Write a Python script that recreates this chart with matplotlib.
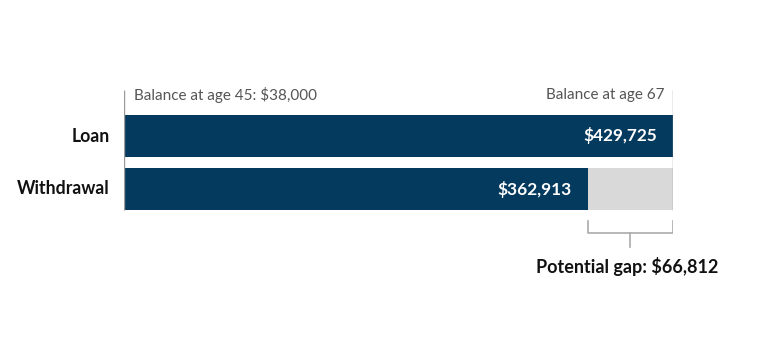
import matplotlib
matplotlib.use("Agg")
import matplotlib.pyplot as plt

categories = ["Loan", "Withdrawal"]
balances = [429725, 362913]
start_label = "Balance at age 45: $38,000"
end_label = "Balance at age 67"
gap_value = balances[0] - balances[1]

NAVY = "#053A5F"
GRAY = "#D9D9D9"
LINE = "#9A9A9A"

plt.rcParams['font.family'] = ['Lato', 'DejaVu Sans']

W, H = 780, 360
fig = plt.figure(figsize=(W / 100, H / 100), dpi=100)
ax = fig.add_axes([124 / W, 0, 549 / W, 1])
xmax = max(balances)
ax.set_xlim(0, xmax)
# pixel mapping: category 0 centre at 136 px, spacing 53 px
ax.set_ylim((H - 136) / 53, -136 / 53)
ax.axis("off")

ypos = list(range(len(categories)))
bh = 42 / 53
# gray remainder
ax.barh(ypos, [xmax] * len(ypos), height=bh, color=GRAY, zorder=1)
ax.barh(ypos, balances, height=bh, color=NAVY, zorder=2)

px = xmax / 549  # data units per pixel
for y, cat, v in zip(ypos, categories, balances):
    ax.text(-14 * px, y, cat, ha="right", va="center", fontsize=12.7,
            fontweight="bold", color="#111111")
    ax.text(v - 16 * px, y, f"${v:,.0f}", ha="right", va="center", fontsize=12.4,
            fontweight="bold", color="white", zorder=3)

py = 1 / 53  # data units per pixel vertical
top = -136 / 53 + 90 * py
bottom = ypos[-1] + bh / 2
for x in (0, xmax):
    ax.plot([x, x], [top, bottom], color=LINE, lw=1, zorder=4, solid_capstyle="butt")

ax.text(10 * px, -136 / 53 + 95 * py, start_label, ha="left", va="center",
        fontsize=10.95, color="#555555")
ax.text(xmax - 9 * px, -136 / 53 + 95 * py, end_label, ha="right", va="center",
        fontsize=10.95, color="#555555")

# bracket for gap
b_top = -136 / 53 + 221 * py
b_mid = -136 / 53 + 233 * py
b_low = -136 / 53 + 247 * py
x0, x1 = balances[1], xmax
ax.plot([x0, x0, x1, x1], [b_top, b_mid, b_mid, b_top], color="#AAAAAA", lw=1.2)
xc = (x0 + x1) / 2
ax.plot([xc, xc], [b_mid, b_low], color="#AAAAAA", lw=1.2)
ax.text(xc - 3 * px, -136 / 53 + 267 * py, f"Potential gap: ${gap_value:,.0f}", ha="center",
        va="center", fontsize=13, fontweight="bold", color="#111111")

fig.savefig("out.png", dpi=100)
